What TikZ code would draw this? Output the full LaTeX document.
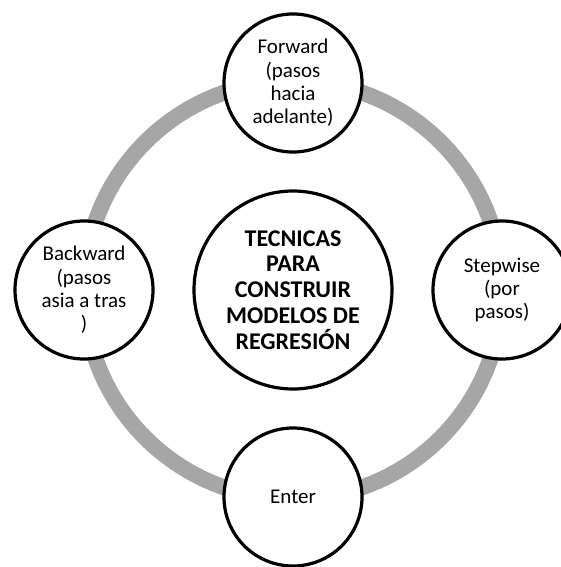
\documentclass[tikz,border=0pt]{standalone}
\usepackage{fontspec}
\setmainfont{Carlito}
\begin{document}
\begin{tikzpicture}[x=1pt,y=-1pt,
  bub/.style={circle,draw=black,line width=3.2pt,fill=white,minimum size=138pt,inner sep=0pt,
    align=center,font=\fontsize{21}{23.3}\selectfont},
  hub/.style={circle,draw=black,line width=3.2pt,fill=white,minimum size=198pt,inner sep=0pt,
    align=center,font=\fontsize{24}{25.8}\selectfont\bfseries}]
\useasboundingbox (0,0) rectangle (561,567);
\fill[white] (0,0) rectangle (561,567);
\coordinate (c) at (293,290);
\draw[color={rgb,255:red,166;green,166;blue,166},line width=16pt] (c) circle[radius=209];
\node[hub] (h) at (c) {TECNICAS\\PARA\\CONSTRUIR\\MODELOS DE\\REGRESIÓN};
\node[bub] (f) at (293,83) {Forward\\(pasos\\hacia\\adelante)};
\node[bub] (s) at (502,290) {Stepwise\\(por\\pasos)};
\node[bub] (e) at (293,497) {Enter};
\node[bub] (b) at (84,290) {Backward\\(pasos\\asia a tras\\)};
\end{tikzpicture}
\end{document}
